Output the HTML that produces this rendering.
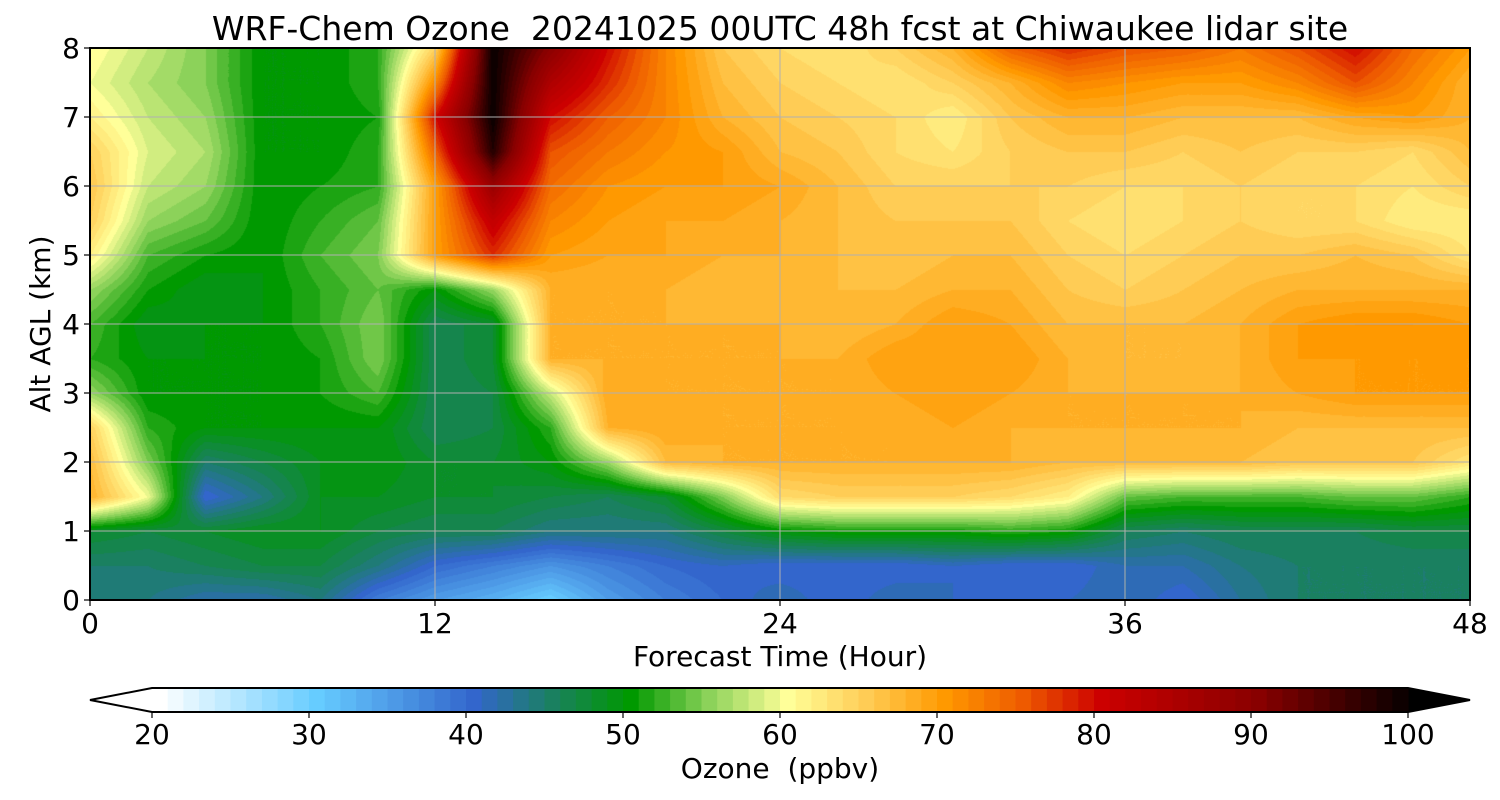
<!DOCTYPE html>
<html><head><meta charset="utf-8">
<style>
body{margin:0;background:#fff;width:1500px;height:800px;overflow:hidden;font-family:"DejaVu Sans","Liberation Sans",sans-serif;}
#wrap{position:relative;width:1500px;height:800px;}
canvas{position:absolute;left:90px;top:48px;}
svg{position:absolute;left:0;top:0;}
text{white-space:pre;}
</style></head><body>
<div id="wrap">
<canvas id="cv" width="1380" height="552"></canvas>
<svg id="sv" width="1500" height="800"></svg>
</div>
<script>
const times=[0,2,4,6,8,10,12,14,16,18,20,22,24,26,28,30,32,34,36,38,40,42,44,46,48];
const alts=[0,0.5,1,1.5,2,2.5,3,3.5,4,4.5,5,5.5,6,6.5,7,7.5,8];
const ozone=[
[45,44,42,42,44,38,35,33,30,35,38,40,42,40,42,41,40,41,42,40,43,45,45,45,45],
[45,45,46,47,47,44,40,38,36,38,40,41,40,40,40,41,40,40,42,42,44,45,45,45,45],
[48,47,48,49,49,47,46,46,44,44,44,47,50,51,51,51,52,51,46,45,46,46,46,47,47],
[68,60,40,44,49,49,48,48,47,46,48,55,64,65,65,65,64,62,54,53,53,53,54,54,52],
[67,55,45,47,49,50,48,48,50,56,67,68,68,68,68,68,68,67,67,67,67,66,66,66,63],
[65,52,50,50,50,50,46,47,52,68,69,68,68,68,68,69,68,68,68,68,68,67,67,67,67],
[56,50,50,50,51,53,46,47,58,69,68,68,68,68,69,70,69,68,68,68,68,69,70,70,70],
[52,50,50,50,51,55,46,48,68,68,68,68,68,68,70,70,70,68,67,67,68,70,70,70,70],
[53,49,50,50,52,55,46,48,68,68,68,68,68,67,68,70,69,67,67,67,68,70,71,71,70],
[56,51,49,50,52,54,50,56,68,68,68,67,67,67,67,68,68,66,65,66,67,68,68,68,68],
[62,53,51,50,53,55,70,78,70,69,69,68,68,67,66,67,67,65,64,65,66,66,67,66,63],
[65,56,54,50,52,54,70,82,72,70,69,69,68,67,66,66,66,64,63,64,65,64,64,62,62],
[66,58,56,50,51,52,70,88,74,71,70,70,69,67,65,65,65,65,64,64,65,64,64,63,65],
[65,59,57,50,50,52,75,98,76,73,71,70,67,66,64,63,65,66,66,65,66,65,65,64,67],
[62,58,56,50,50,51,80,100,80,75,72,68,66,65,64,62,66,68,68,67,67,67,69,70,68],
[60,57,55,50,50,52,72,100,85,78,72,67,65,64,63,65,68,72,71,70,70,72,76,72,68],
[61,58,55,50,50,52,65,100,90,80,72,66,64,63,65,68,75,78,76,75,73,76,80,74,70]];
const xTicks=[0,12,24,36,48];
const yTicks=[0,1,2,3,4,5,6,7,8];
const cbTicks=[20,30,40,50,60,70,80,90,100];

const stops=[[20,[255,255,255]],[30,[102,204,255]],[40,[51,102,204]],[45,[26,128,96]],[50,[0,153,0]],[55,[140,210,90]],[60,[255,255,153]],[65,[255,204,85]],[70,[255,153,0]],[75,[238,90,0]],[80,[204,0,0]],[90,[136,0,0]],[100,[0,0,0]]];
function cmap(v){v=Math.max(20,Math.min(100,v));for(let i=0;i<stops.length-1;i++){const a=stops[i],b=stops[i+1];if(v<=b[0]){const f=(v-a[0])/(b[0]-a[0]);return a[1].map((c,k)=>Math.round(c+(b[1][k]-c)*f));}}return stops[stops.length-1][1];}
const PL=90,PT=48,PW=1380,PH=552;
const xs=t=>PL+t/48*PW, ys=a=>PT+PH-a/8*PH;
const cv=document.getElementById('cv'),ctx=cv.getContext('2d'),img=ctx.createImageData(PW,PH);
for(let py=0;py<PH;py++){const a=(PH-py)/PH*8;let j=Math.min(alts.length-2,Math.floor(a/0.5));const fy=(a-alts[j])/(alts[j+1]-alts[j]);
 for(let px=0;px<PW;px++){const t=px/PW*48;let i=Math.min(times.length-2,Math.floor(t/2));const fx=(t-times[i])/(times[i+1]-times[i]);
  const v=ozone[j][i]*(1-fx)*(1-fy)+ozone[j][i+1]*fx*(1-fy)+ozone[j+1][i]*(1-fx)*fy+ozone[j+1][i+1]*fx*fy;
  const c=cmap(Math.floor(v));const o=(py*PW+px)*4;img.data[o]=c[0];img.data[o+1]=c[1];img.data[o+2]=c[2];img.data[o+3]=255;}}
ctx.putImageData(img,0,0);
const sv=document.getElementById('sv');const NS='http://www.w3.org/2000/svg';
function mk(tag,at,txt){const e=document.createElementNS(NS,tag);for(const k in at)e.setAttribute(k,at[k]);if(txt!==undefined)e.textContent=txt;sv.appendChild(e);return e;}
let e;
xTicks.forEach(t=>{
 if(t>0&&t<48){e=mk('line',{x1:xs(t),x2:xs(t),y1:PT,y2:PT+PH,stroke:'#b0b0b0','stroke-width':1});
 
 }
 e=mk('line',{x1:xs(t),x2:xs(t),y1:PT+PH,y2:PT+PH+6,stroke:'#000','stroke-width':1.2});
 
 
 e=mk('text',{x:xs(t),y:633,'font-size':28,'text-anchor':'middle'},t);
 
 
});
yTicks.forEach(a=>{
 if(a>0&&a<8){e=mk('line',{x1:PL,x2:PL+PW,y1:ys(a),y2:ys(a),stroke:'#b0b0b0','stroke-width':1});
 
 }
 e=mk('line',{x1:PL-6,x2:PL,y1:ys(a),y2:ys(a),stroke:'#000','stroke-width':1.2});
 
 
 e=mk('text',{x:80,y:ys(a)+10,'font-size':28,'text-anchor':'end'},a);
 
 
});
e=mk('rect',{x:PL,y:PT,width:PW,height:PH,fill:'none',stroke:'#000','stroke-width':2});


e=mk('text',{x:780,y:40,'font-size':33,'text-anchor':'middle'},'WRF-Chem Ozone  20241025 00UTC 48h fcst at Chiwaukee lidar site');


e=mk('text',{x:780,y:666,'font-size':28,'text-anchor':'middle'},'Forecast Time (Hour)');


e=mk('text',{x:50,y:324,'font-size':28,'text-anchor':'middle',transform:'rotate(-90 50 324)'},'Alt AGL (km)');


const CL=152,CR=1408,CT=688,CB=712;const cx=v=>CL+(v-20)/80*(CR-CL);
e=mk('polygon',{points:`${CL},${CT} 90,${(CT+CB)/2} ${CL},${CB}`,fill:'#fff'});


e=mk('polygon',{points:`${CR},${CT} 1470,${(CT+CB)/2} ${CR},${CB}`,fill:'#000'});


for(let v=20;v<100;v++){const c=cmap(v);
 e=mk('rect',{x:cx(v),y:CT,width:cx(v+1)-cx(v)+0.6,height:CB-CT,fill:`rgb(${c})`});
 
 }
e=mk('polygon',{points:`90,${(CT+CB)/2} ${CL},${CT} ${CR},${CT} 1470,${(CT+CB)/2} ${CR},${CB} ${CL},${CB}`,fill:'none',stroke:'#000','stroke-width':2});


cbTicks.forEach(v=>{
 e=mk('line',{x1:cx(v),x2:cx(v),y1:CB,y2:CB+6,stroke:'#000','stroke-width':1.2});
 
 
 e=mk('text',{x:cx(v),y:744,'font-size':28,'text-anchor':'middle'},v);
 
 
});
e=mk('text',{x:780,y:778,'font-size':28,'text-anchor':'middle'},'Ozone  (ppbv)');


</script>
</body></html>
